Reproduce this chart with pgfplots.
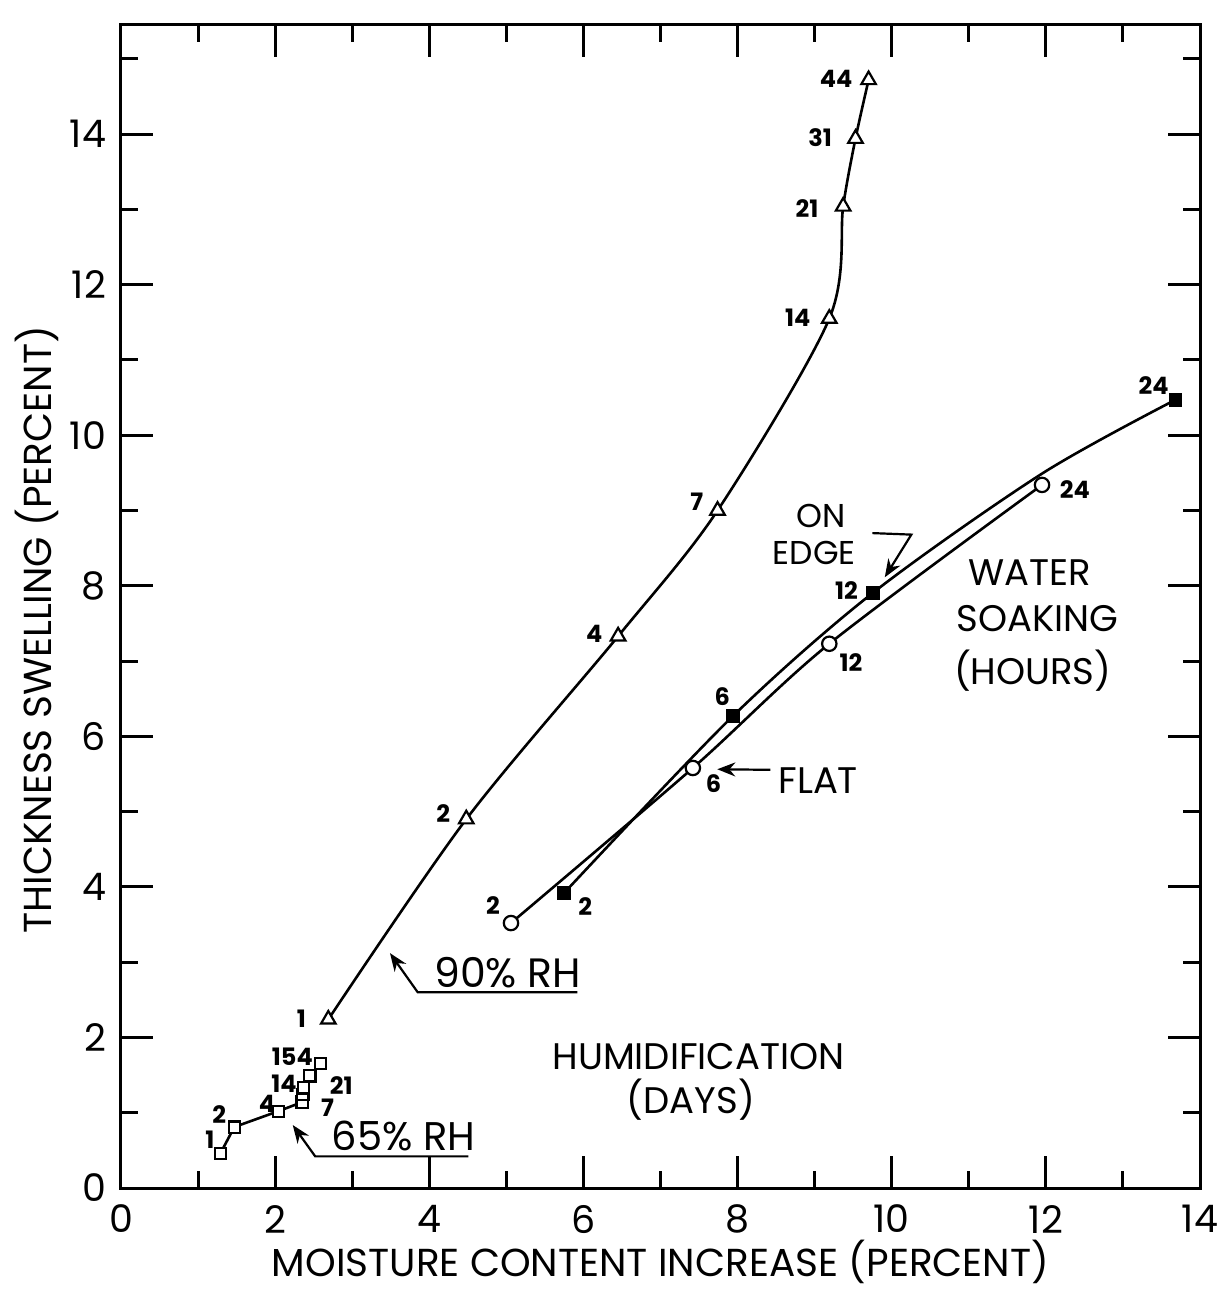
\documentclass[border=0pt]{standalone}
\usepackage{fontspec}
\setmainfont{Poppins}
\usepackage{pgfplots}
\pgfplotsset{compat=1.18}
\usetikzlibrary{arrows.meta}
\begin{document}
\begin{tikzpicture}
\path[use as bounding box] (-60.5pt,-51pt) rectangle (551.5pt,594pt);
\begin{axis}[
  at={(0pt,0pt)}, anchor=south west,
  scale only axis, width=539.5pt, height=581.5pt,
  xmin=0, xmax=14, ymin=0, ymax=15.45,
  xtick={0,2,...,14}, ytick={0,2,...,14},
  minor xtick={1,3,...,13}, minor ytick={1,3,...,15},
  major tick length=16pt, minor tick length=8.5pt,
  every tick/.style={line width=1.5pt, black},
  axis line style={line width=1.5pt},
  tick label style={font=\fontsize{19}{19}\selectfont},
  /pgf/number format/assume math mode=true,
  xticklabel style={yshift=-5pt},
  yticklabel style={xshift=-4pt},
  xlabel={MOISTURE CONTENT INCREASE (PERCENT)},
  ylabel={THICKNESS SWELLING (PERCENT)},
  every axis x label/.style={at={(axis description cs:0.5,-0.0636)}, anchor=center,
     font=\fontsize{19.5}{19.5}\selectfont},
  every axis y label/.style={at={(axis description cs:-0.0778,0.48)}, anchor=center, rotate=90,
     font=\fontsize{19.5}{19.5}\selectfont},
  clip=false,
]
% 90% RH humidification (days)
\addplot[black, line width=1.3pt, smooth, tension=0.5, mark=triangle*, mark size=4.2pt,
  mark options={solid, line width=1.1pt, fill=white}] coordinates {
  (2.69,2.24) (4.48,4.90) (6.45,7.33) (7.74,9.00) (9.19,11.55) (9.37,13.04) (9.53,13.94) (9.70,14.72)};
% 65% RH humidification (days)
\addplot[black, line width=1.3pt, mark=square*, mark size=2.8pt,
  mark options={solid, line width=1.1pt, fill=white}] coordinates {
  (1.29,0.46) (1.47,0.81) (2.04,1.02) (2.35,1.14) (2.36,1.24) (2.37,1.33) (2.45,1.49) (2.59,1.65)};
% Water soaking, on edge (hours): curve path read from the figure, then the marks
\addplot[black, line width=1.3pt, smooth, tension=0.5] coordinates {
  (5.75,3.92) (7.94,6.27) (9.76,7.91) (11.95,9.49) (13.68,10.47)};
\addplot[only marks, mark=square*, mark size=3.2pt, mark options={solid, fill=black, draw=black}] coordinates {
  (5.75,3.92) (7.94,6.27) (9.76,7.91) (13.68,10.47)};
% Water soaking, flat (hours)
\addplot[black, line width=1.3pt, smooth, tension=0.5, mark=*, mark size=3.6pt,
  mark options={solid, line width=1.1pt, fill=white}] coordinates {
  (5.06,3.52) (7.42,5.58) (9.19,7.23) (11.95,9.34)};

% point labels
\begin{scope}[every node/.style={font=\fontsize{12}{12}\selectfont\bfseries, inner sep=0pt}]
\node at (axis cs:9.28,14.74) {44};
\node at (axis cs:9.07,13.96) {31};
\node at (axis cs:8.90,13.01) {21};
\node at (axis cs:8.78,11.56) {14};
\node at (axis cs:7.47,9.11) {7};
\node at (axis cs:6.14,7.36) {4};
\node at (axis cs:4.18,4.97) {2};
\node at (axis cs:2.34,2.25) {1};
\node at (axis cs:1.154,0.646) {1};
\node at (axis cs:1.275,0.976) {2};
\node at (axis cs:1.895,1.123) {4};
\node at (axis cs:2.68,1.07) {7};
\node at (axis cs:2.115,1.386) {14};
\node at (axis cs:2.858,1.356) {21};
\node at (axis cs:2.224,1.74) {154};
\node at (axis cs:4.826,3.757) {2};
\node at (axis cs:6.024,3.742) {2};
\node at (axis cs:7.80,6.528) {6};
\node at (axis cs:7.687,5.369) {6};
\node at (axis cs:9.413,7.937) {12};
\node at (axis cs:9.472,6.976) {12};
\node at (axis cs:12.377,9.274) {24};
\node at (axis cs:13.397,10.656) {24};
\end{scope}

% annotations
\begin{scope}[every node/.style={font=\fontsize{18.5}{18.5}\selectfont, inner sep=0pt, align=center}]
\node[font=\fontsize{20.5}{20.5}\selectfont] at (axis cs:5.018,2.86) {90\% RH};
\node[font=\fontsize{20}{20}\selectfont] at (axis cs:3.667,0.686) {65\% RH};
\node at (axis cs:7.494,1.741) {HUMIDIFICATION};
\node at (axis cs:7.395,1.171) {(DAYS)};
\node[font=\fontsize{16.5}{16.5}\selectfont] at (axis cs:9.078,8.93) {ON};
\node[font=\fontsize{16.5}{16.5}\selectfont] at (axis cs:8.994,8.44) {EDGE};
\node at (axis cs:11.79,8.17) {WATER};
\node at (axis cs:11.89,7.57) {SOAKING};
\node at (axis cs:11.83,6.868) {(HOURS)};
\node at (axis cs:9.046,5.414) {FLAT};
\end{scope}

\draw[line width=1.1pt, -{Stealth[length=9pt,width=7pt]}] (axis cs:5.92,2.6) -- (axis cs:3.85,2.6) -- (axis cs:3.49,3.12);
\draw[line width=1.1pt, -{Stealth[length=9pt,width=7pt]}] (axis cs:4.506,0.42) -- (axis cs:2.52,0.42) -- (axis cs:2.229,0.836);
\draw[line width=1.1pt, -{Stealth[length=9pt,width=7pt]}] (axis cs:9.75,8.70) -- (axis cs:10.255,8.68) -- (axis cs:9.91,8.113);
\draw[line width=1.1pt, -{Stealth[length=9pt,width=7pt]}] (axis cs:8.425,5.555) -- (axis cs:7.737,5.563);
\end{axis}
\end{tikzpicture}
\end{document}
